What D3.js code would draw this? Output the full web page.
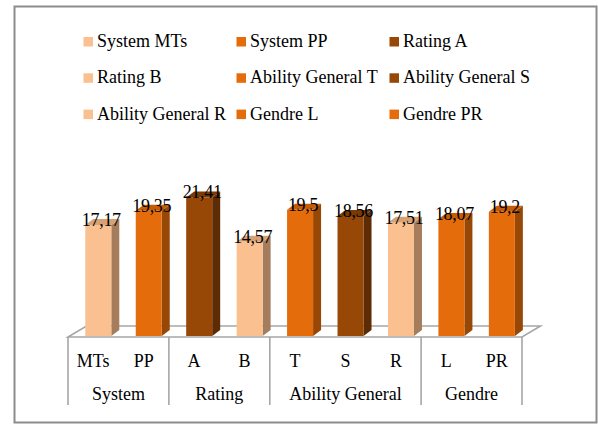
<!DOCTYPE html>
<html><head><meta charset="utf-8">
<script src="https://cdn.jsdelivr.net/npm/d3@7"></script>
<style>
html,body{margin:0;padding:0;background:#fff;}
svg{display:block;}
svg text{font-family:"Liberation Serif", "Times New Roman", Times, "DejaVu Serif", serif; font-size:18px; fill:#000;}
</style>
</head><body>
<svg id="chart" width="598" height="424"></svg>
<script>
// ---- data ----
const innerLabels = ["MTs","PP","A","B","T","S","R","L","PR"];
const groupNames  = ["System","System","Rating","Rating","Ability General","Ability General","Ability General","Gendre","Gendre"];
const values      = [17.17, 19.35, 21.41, 14.57, 19.5, 18.56, 17.51, 18.07, 19.2];
const valueLabels = ["17,17","19,35","21,41","14,57","19,5","18,56","17,51","18,07","19,2"];
const colorIndex  = [0, 1, 2, 0, 1, 2, 0, 1, 1];
const groups      = ["System","Rating","Ability General","Gendre"];

// ---- styles ----
const palette = [
  {front:"#FAC090", top:"#D6A275", side:"#A57D5C"},
  {front:"#E46C0A", top:"#C65C08", side:"#984806"},
  {front:"#974806", top:"#7A3A05", side:"#5E2C04"}
];

const svg = d3.select("#chart");
svg.append("rect").attr("x",14.5).attr("y",6.5).attr("width",582).attr("height",416)
  .attr("fill","#fff").attr("stroke","#8c8c8c").attr("stroke-width",2);

const x = d3.scaleBand().domain(d3.range(values.length)).range([68, 522]).padding(0);
const y = d3.scaleLinear().domain([0, 25]).range([336, 336 - 25*6.47]);

const floorFront = 337, floorBack = 326, floorDx = 18.5;
const [fx0, fx1] = x.range();
// floor
svg.append("path")
  .attr("d", `M${fx0},${floorFront}L${fx1},${floorFront}L${fx1+floorDx},${floorBack}L${fx0+floorDx},${floorBack}Z`)
  .attr("fill","#fff").attr("stroke","#A6A6A6").attr("stroke-width",1.6);

// bars
const barW = 26, dX = 8, dY = 6, off = 17.3;
const bars = svg.append("g");
values.forEach((v, i) => {
  const c = palette[colorIndex[i]];
  const x0 = x(i) + off, x1 = x0 + barW, yt = y(v), yb = y(0);
  bars.append("path").attr("d", `M${x1},${yb}L${x1+dX},${yb-dY}L${x1+dX},${yt-dY}L${x1},${yt}Z`).attr("fill", c.side);
  bars.append("path").attr("d", `M${x0},${yt}L${x0+dX},${yt-dY}L${x1+dX},${yt-dY}L${x1},${yt}Z`).attr("fill", c.top);
  bars.append("rect").attr("x", x0).attr("y", yt).attr("width", barW).attr("height", yb - yt).attr("fill", c.front);
});

// value labels
svg.append("g").selectAll("text").data(values).join("text")
  .attr("x", (d,i) => x(i) + off + barW/2 + 3)
  .attr("y", d => y(d) + 1)
  .attr("text-anchor","middle")
  .attr("letter-spacing", -0.3)
  .text((d,i) => valueLabels[i]);

// category table
const tbl = svg.append("g");
const boundaries = [0];
groups.forEach(g => boundaries.push(boundaries[boundaries.length-1] + groupNames.filter(n => n === g).length));
boundaries.forEach(b => {
  const bx = b < values.length ? x(b) : fx1;
  tbl.append("line").attr("x1", bx).attr("x2", bx).attr("y1", floorFront).attr("y2", 405)
    .attr("stroke","#A6A6A6").attr("stroke-width",1.6);
});
tbl.selectAll("text.inner").data(innerLabels).join("text").attr("class","inner")
  .attr("x", (d,i) => x(i) + x.bandwidth()/2)
  .attr("y", 367)
  .attr("text-anchor","middle")
  .text(d => d);
groups.forEach((g, gi) => {
  const a = x(boundaries[gi]);
  const b = boundaries[gi+1] < values.length ? x(boundaries[gi+1]) : fx1;
  tbl.append("text").attr("x", (a+b)/2).attr("y", 400)
    .attr("text-anchor","middle")
    .text(g);
});

// legend
const legendItems = innerLabels.map((l, i) => ({name: groupNames[i] + " " + l, c: palette[colorIndex[i]].front}));
const leg = svg.append("g");
legendItems.forEach((d, i) => {
  const col = i % 3, row = Math.floor(i / 3);
  const lx = 83.5 + col * 153, ly = 47 + row * 36.3;
  leg.append("rect").attr("x", lx).attr("y", ly - 10).attr("width", 9.5).attr("height", 9.5).attr("fill", d.c);
  leg.append("text").attr("x", lx + 13.5).attr("y", ly).text(d.name);
});
</script>
</body></html>
